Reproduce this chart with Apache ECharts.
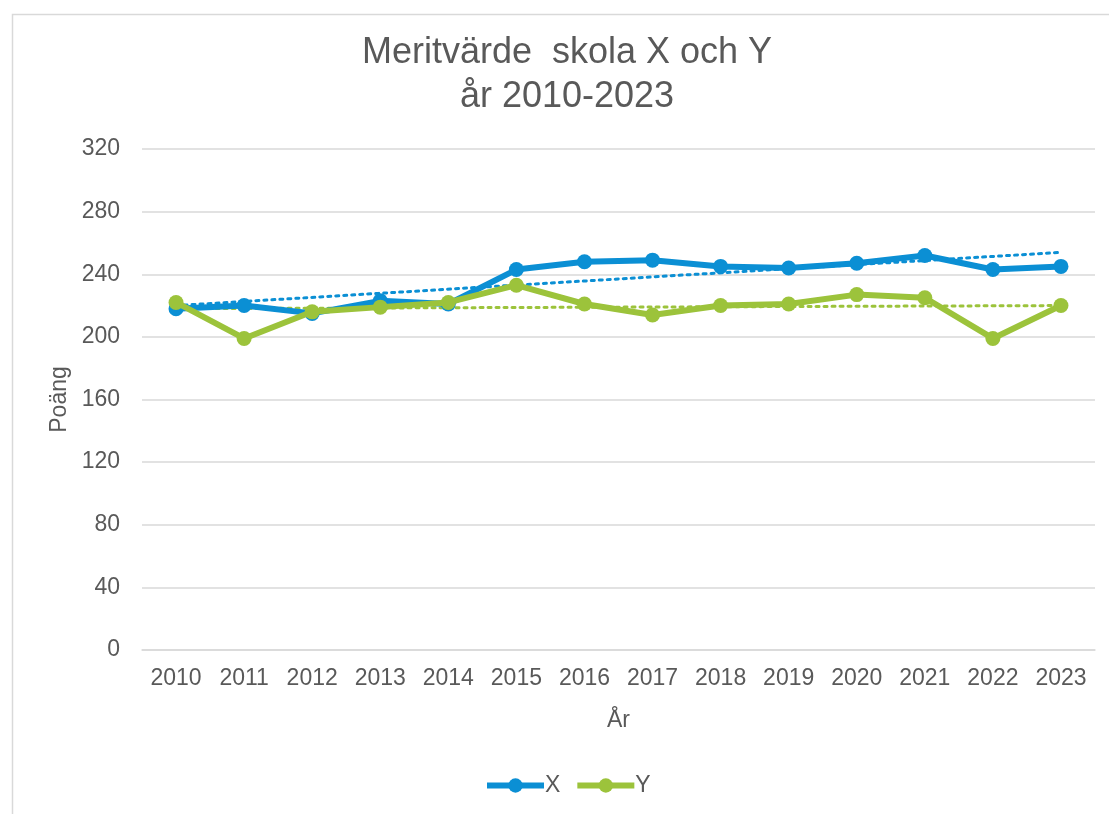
<!DOCTYPE html>
<html lang="sv">
<head>
<meta charset="UTF-8">
<title>Meritvärde skola X och Y</title>
<script src="https://cdn.jsdelivr.net/npm/echarts@6/dist/echarts.min.js"></script>
<style>
    html, body { margin: 0; padding: 0; background: #fff; }
    #main { width: 1109px; height: 814px; }
</style>
</head>
<body>
<div id="main"></div>
<script>
    var years = ['2010', '2011', '2012', '2013', '2014', '2015', '2016', '2017', '2018', '2019', '2020', '2021', '2022', '2023'];
    var schoolX = [218, 220, 215, 223, 221, 243, 248, 249, 245, 244, 247, 252, 243, 245];
    var schoolY = [222, 199, 216, 219, 222, 233, 221, 214, 220, 221, 227, 225, 199, 220];
    // trend line end points (first and last year)
    var trendX = [220, 254];
    var trendY = [218, 220];
    var yTicks = { min: 0, max: 320, interval: 40 };

    var blue = '#0b8fd4';
    var green = '#9cc33b';
    var grey = '#595959';
    var font = 'Liberation Sans, Arial, sans-serif';

    var chart = echarts.init(document.getElementById('main'));

    function trend(ends) {
        return [[years[0], ends[0]], [years[years.length - 1], ends[1]]];
    }

    var option = {
        animation: false,
        textStyle: { fontFamily: font },
        graphic: [{
            type: 'rect',
            left: 10,
            top: 12,
            shape: { width: 1300, height: 1000 },
            style: { fill: 'none', stroke: '#d9d9d9', lineWidth: 1.5 },
            silent: true,
            z: -1
        }],
        title: {
            text: 'Meritvärde  skola X och Y\når 2010-2023',
            left: 562,
            textAlign: 'center',
            top: 26,
            textStyle: {
                fontFamily: font,
                fontSize: 36,
                fontWeight: 'normal',
                color: grey,
                lineHeight: 44
            }
        },
        legend: {
            data: ['X', 'Y'],
            bottom: 12,
            left: 479,
            itemWidth: 57,
            itemHeight: 18,
            itemGap: 14,
            lineStyle: { width: 6 },
            textStyle: { fontSize: 23, color: grey, fontFamily: font, padding: [0, 0, 0, -4] }
        },
        grid: {
            left: 142,
            right: 14,
            top: 149,
            bottom: 164
        },
        xAxis: {
            type: 'category',
            data: years,
            boundaryGap: true,
            name: 'År',
            nameLocation: 'middle',
            nameGap: 59,
            nameTextStyle: { fontSize: 23, color: grey },
            axisLine: { lineStyle: { color: '#d9d9d9', width: 1.5 } },
            axisTick: { show: false },
            axisLabel: { fontSize: 23, color: grey, margin: 17 }
        },
        yAxis: {
            type: 'value',
            min: yTicks.min,
            max: yTicks.max,
            interval: yTicks.interval,
            name: 'Poäng',
            nameLocation: 'middle',
            nameGap: 70,
            nameTextStyle: { fontSize: 23, color: grey },
            axisLine: { show: false },
            axisTick: { show: false },
            axisLabel: { fontSize: 23, color: grey, margin: 22 },
            splitLine: { lineStyle: { color: '#d9d9d9', width: 1.5 } }
        },
        series: [
            {
                name: 'X',
                type: 'line',
                data: schoolX,
                symbol: 'circle',
                symbolSize: 15,
                color: blue,
                lineStyle: { width: 6, color: blue },
                itemStyle: { color: blue },
                z: 3
            },
            {
                name: 'Y',
                type: 'line',
                data: schoolY,
                symbol: 'circle',
                symbolSize: 15,
                color: green,
                lineStyle: { width: 6, color: green },
                itemStyle: { color: green },
                z: 4
            },
            {
                name: 'Trend X',
                type: 'line',
                data: trend(trendX),
                symbol: 'none',
                lineStyle: { width: 3, color: blue, type: [3, 5], cap: 'round' },
                z: 2
            },
            {
                name: 'Trend Y',
                type: 'line',
                data: trend(trendY),
                symbol: 'none',
                lineStyle: { width: 3, color: green, type: [3, 5], cap: 'round' },
                z: 2
            }
        ]
    };

    chart.setOption(option);
</script>
</body>
</html>
